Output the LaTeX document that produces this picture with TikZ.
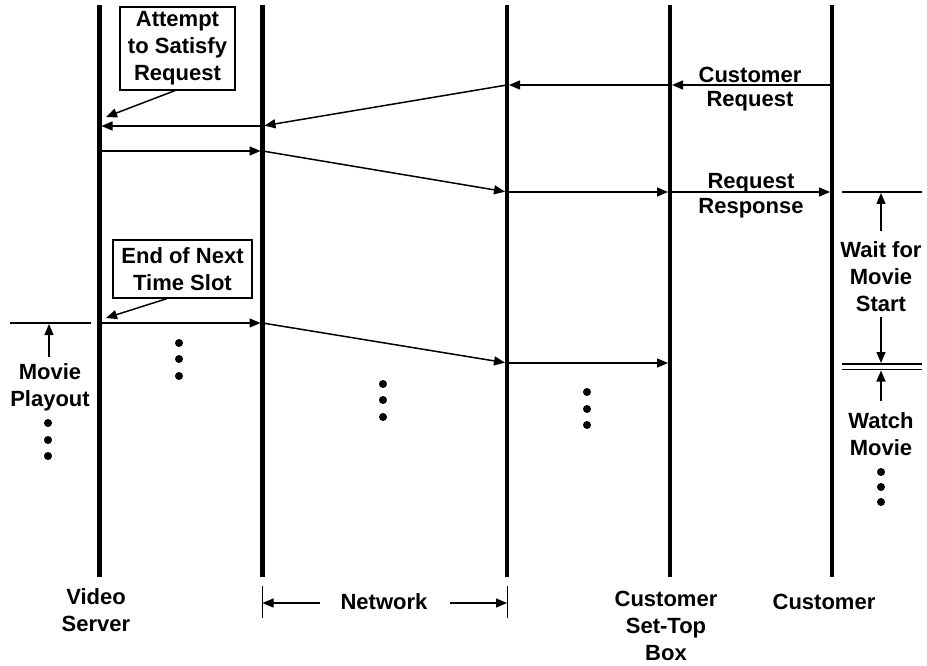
\documentclass[tikz,border=0pt]{standalone}
\usepackage{fontspec}
\setmainfont{Liberation Sans}
\usetikzlibrary{arrows.meta}
\begin{document}
\begin{tikzpicture}[x=1pt,y=-1pt,
  lifeline/.style={line width=4.2pt},
  msg/.style={line width=1.5pt,-{Triangle[length=11pt,width=9pt]},shorten >=2pt},
  ptr/.style={line width=1.5pt,-{Triangle[length=11pt,width=9pt]}},
  marker/.style={line width=1.3pt},
  bracket/.style={line width=1pt},
  lbl/.style={font=\fontsize{22}{27}\selectfont\bfseries, align=center, inner sep=0pt},
  note/.style={lbl, draw, line width=1.2pt},
  dot/.style={circle, fill, inner sep=0pt, minimum size=8pt}]
\useasboundingbox (0,0) rectangle (927,666);

% lifelines
\foreach \n/\x in {vs/99.5, nl/262.5, nr/507, stb/670, cu/832}{
  \coordinate (\n T) at (\x,5);
  \coordinate (\n B) at (\x,577);
  \draw[lifeline] (\n T) -- (\n B);
}

% customer request
\coordinate (cu1) at (832,85);
\coordinate (stb1) at (670,85);
\coordinate (nr1) at (507,85);
\coordinate (nl1) at (262.5,126);
\coordinate (vs1) at (99.5,126);
\draw[msg] (cu1) -- (stb1);
\draw[msg] (stb1) -- (nr1);
\draw[msg] (nr1) -- (nl1);
\draw[msg] (nl1) -- (vs1);

% request response
\coordinate (vs2) at (99.5,151);
\coordinate (nl2) at (262.5,151);
\coordinate (nr2) at (507,192);
\coordinate (stb2) at (670,192);
\coordinate (cu2) at (832,192);
\draw[msg] (vs2) -- (nl2);
\draw[msg] (nl2) -- (nr2);
\draw[msg] (nr2) -- (stb2);
\draw[msg] (stb2) -- (cu2);

% movie playout
\coordinate (vs3) at (99.5,323);
\coordinate (nl3) at (262.5,323);
\coordinate (nr3) at (507,363);
\coordinate (stb3) at (670,363);
\draw[msg] (vs3) -- (nl3);
\draw[msg] (nl3) -- (nr3);
\draw[msg] (nr3) -- (stb3);

% notes
\node[note, minimum width=115pt, minimum height=83pt] (attempt) at (177.5,48.5) {Attempt\\to Satisfy\\Request};
\coordinate (attemptTip) at (106,117);
\draw[ptr] (attempt.south -| 175,0) -- (attemptTip);

\node[note, minimum width=139pt, minimum height=58pt] (endslot) at (182.5,269) {End of Next\\Time Slot};
\coordinate (endslotTip) at (106,318);
\draw[ptr] (endslot.south -| 167,0) -- (endslotTip);

% message labels
\node[lbl, font=\fontsize{22}{24}\selectfont\bfseries] (custreq) at (750,89.5) {Customer\\Request};
\node[lbl, font=\fontsize{22}{25}\selectfont\bfseries] (reqresp) at (751,196) {Request\\Response};

% left: movie playout
\coordinate (mpL) at (10,323);
\coordinate (mpR) at (91,323);
\draw[marker] (mpL) -- (mpR);
\node[lbl] (playout) at (50,387) {Movie\\Playout};
\coordinate (mpTip) at (49,324);
\draw[ptr] (49,357) -- (mpTip);
\foreach \y [count=\i] in {423,440,456}{ \node[dot] (ld\i) at (48,\y) {}; }

% video server dots
\foreach \y [count=\i] in {343,359,376}{ \node[dot] (vd\i) at (179,\y) {}; }
% network dots
\foreach \y [count=\i] in {384,400,417}{ \node[dot] (nd\i) at (383,\y) {}; }
% set-top box dots
\foreach \y [count=\i] in {392,409,425}{ \node[dot] (sd\i) at (587,\y) {}; }

% right: wait for movie start / watch movie
\coordinate (wL) at (842,192);
\coordinate (wR) at (922,192);
\draw[marker] (wL) -- (wR);
\coordinate (d1L) at (842,364);
\coordinate (d1R) at (922,364);
\coordinate (d2L) at (842,369.5);
\coordinate (d2R) at (922,369.5);
\draw[marker] (d1L) -- (d1R);
\draw[marker] (d2L) -- (d2R);
\node[lbl] (wait) at (881,276.5) {Wait for\\Movie\\Start};
\coordinate (waitTop) at (881,193);
\coordinate (waitBot) at (881,363);
\draw[ptr] (881,231) -- (waitTop);
\draw[ptr] (881,317) -- (waitBot);
\node[lbl] (watch) at (881,434) {Watch\\Movie};
\coordinate (watchTop) at (881,370.5);
\draw[ptr] (881,401) -- (watchTop);
\foreach \y [count=\i] in {472,487,502}{ \node[dot] (rd\i) at (881,\y) {}; }

% bottom labels
\node[lbl] (vslab) at (96,610.5) {Video\\Server};
\node[lbl] (netlab) at (384,602) {Network};
\node[lbl] (stblab) at (666,626) {Customer\\Set-Top\\Box};
\node[lbl] (culab) at (824,602) {Customer};

% network bracket
\coordinate (bl1) at (262.5,586);
\coordinate (bl2) at (262.5,618);
\coordinate (br1) at (507,586);
\coordinate (br2) at (507,618);
\draw[bracket] (bl1) -- (bl2);
\draw[bracket] (br1) -- (br2);
\coordinate (blTip) at (262.5,603);
\coordinate (brTip) at (507,603);
\draw[ptr, line width=1.2pt] (320,603) -- (blTip);
\draw[ptr, line width=1.2pt] (450,603) -- (brTip);
\end{tikzpicture}
\end{document}
